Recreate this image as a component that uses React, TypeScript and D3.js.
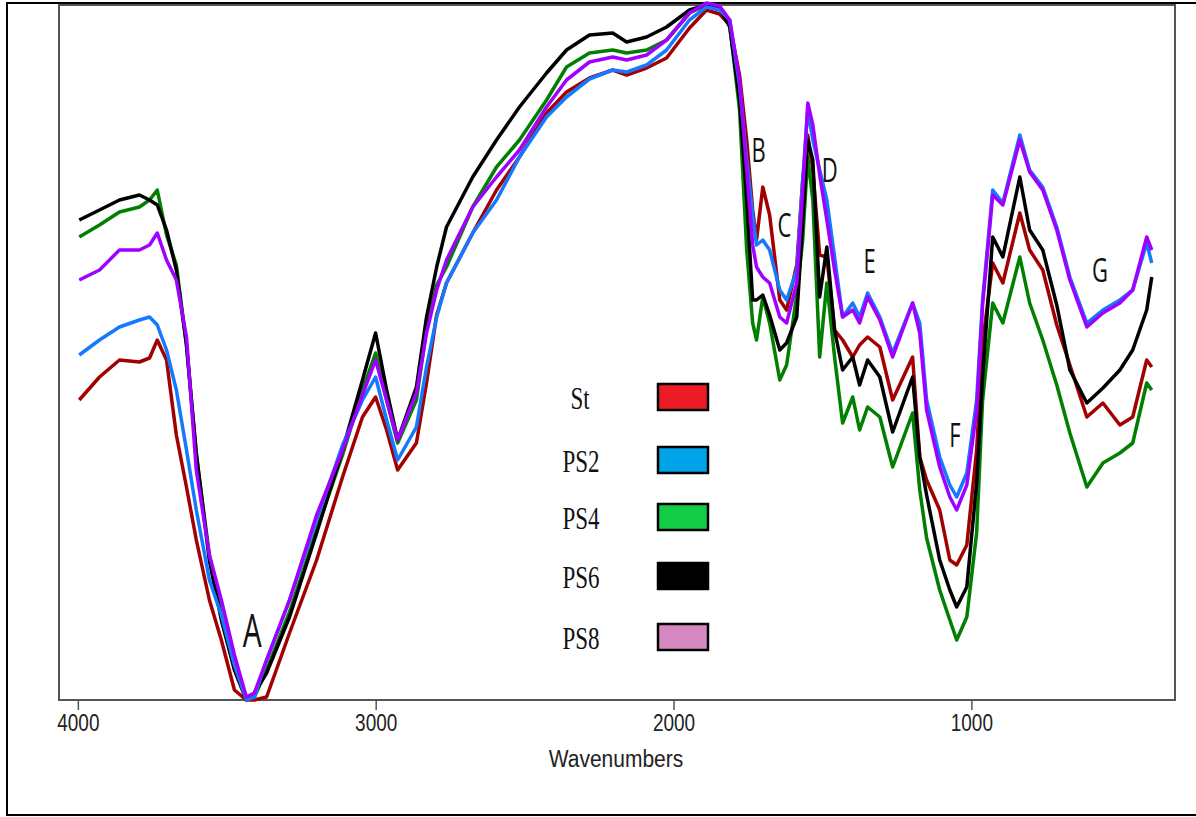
import React from "react";
import * as d3 from "d3";

// wavenumbers (cm-1) sampled along the spectra
const wavenumbers = [
  3997, 3929, 3862, 3795, 3761, 3735, 3704, 3671, 3637, 3604,
  3560, 3520, 3476, 3436, 3409, 3368, 3291, 3200, 3113, 3046,
  3002, 2965, 2928, 2865, 2831, 2797, 2764, 2676, 2596, 2519,
  2428, 2361, 2284, 2206, 2159, 2092, 2025, 1948, 1891, 1847,
  1813, 1780, 1756, 1736, 1723, 1702, 1679, 1645, 1622, 1588,
  1568, 1551, 1534, 1511, 1487, 1461, 1434, 1400, 1377, 1350,
  1309, 1266, 1199, 1175, 1152, 1108, 1074, 1051, 1017, 984,
  964, 930, 896, 839, 806, 762, 715, 671, 614, 560,
  503, 460, 413, 396,
];

// transmittance-like values (arbitrary units)
const St = [
  30.0, 32.3, 34.0, 33.8, 34.2, 36.0, 34.0, 26.5, 21.3, 16.0,
  10.0, 6.0, 1.0, 0.0, 0.0, 0.3, 6.7, 14.0, 22.3, 28.3,
  30.3, 27.0, 23.0, 25.7, 31.7, 38.5, 41.7, 46.7, 51.0, 54.3,
  58.7, 60.8, 62.2, 63.0, 62.5, 63.2, 64.2, 67.2, 69.0, 68.6,
  67.5, 62.5, 56.0, 49.0, 46.0, 51.3, 48.5, 40.0, 39.0, 43.5,
  52.0, 56.5, 53.0, 44.5, 44.3, 37.0, 36.0, 34.3, 35.5, 36.3,
  35.3, 30.0, 34.3, 24.3, 22.0, 19.0, 14.0, 13.5, 15.5, 25.0,
  35.7, 43.7, 41.7, 48.7, 45.0, 43.0, 37.5, 33.5, 28.3, 29.7,
  27.5, 28.3, 34.0, 33.3,
];
const PS2 = [
  34.5, 36.0, 37.3, 38.0, 38.3, 37.5, 35.0, 31.0, 25.0, 19.0,
  12.0, 8.5, 3.5, 0.0, 0.3, 4.0, 10.0, 18.0, 25.5, 30.0,
  32.3, 28.0, 24.0, 27.3, 33.3, 38.3, 41.7, 46.7, 50.0, 54.3,
  58.3, 60.3, 62.1, 63.0, 62.8, 63.5, 65.0, 68.0, 69.3, 69.0,
  68.0, 61.5, 54.0, 48.5, 45.5, 46.0, 45.0, 41.0, 40.0, 43.0,
  52.0, 59.0, 56.0, 53.0, 50.0, 44.3, 38.3, 39.7, 38.3, 40.7,
  38.3, 34.7, 39.7, 37.7, 30.0, 24.3, 21.5, 20.3, 22.7, 30.0,
  40.0, 51.0, 49.7, 56.5, 53.0, 51.3, 47.3, 42.3, 37.7, 39.0,
  40.0, 41.0, 45.7, 43.7,
];
const PS4 = [
  46.3, 47.5, 48.8, 49.3, 50.0, 51.0, 46.5, 43.5, 35.5, 24.5,
  14.5, 8.5, 3.5, 0.2, 0.3, 3.0, 8.8, 17.0, 24.5, 31.0,
  34.7, 30.0, 25.7, 30.0, 37.0, 41.5, 43.3, 49.3, 53.3, 56.0,
  60.0, 63.3, 64.7, 65.0, 64.7, 65.0, 66.0, 68.7, 69.5, 69.2,
  67.5, 59.0, 45.0, 37.7, 36.0, 40.3, 37.7, 32.0, 33.5, 40.5,
  46.0, 54.3, 50.0, 34.3, 41.7, 34.3, 27.7, 30.3, 27.0, 29.3,
  28.3, 23.3, 28.7, 21.0, 16.2, 11.0, 8.0, 6.0, 8.3, 16.7,
  30.0, 39.7, 37.7, 44.3, 39.7, 36.0, 31.5, 26.7, 21.3, 23.7,
  24.7, 25.7, 31.7, 31.0,
];
const PS6 = [
  48.0, 49.0, 50.0, 50.5, 50.0, 49.5, 47.0, 43.0, 35.5, 24.7,
  13.9, 8.0, 3.0, 0.0, 0.7, 2.7, 8.3, 16.7, 25.0, 32.0,
  36.7, 31.0, 26.0, 31.3, 38.3, 43.3, 47.3, 52.3, 56.0, 59.3,
  62.7, 65.0, 66.5, 66.7, 65.8, 66.3, 67.3, 69.0, 69.5, 69.2,
  67.3, 60.0, 50.0, 40.0, 40.0, 40.5, 38.5, 35.0, 35.7, 38.3,
  47.7, 56.0, 54.0, 40.3, 45.3, 37.0, 33.0, 34.3, 31.5, 34.0,
  32.3, 26.8, 32.3, 24.3, 20.5, 14.0, 11.0, 9.3, 11.3, 21.7,
  32.3, 46.3, 44.3, 52.3, 47.0, 45.0, 39.5, 33.0, 29.7, 31.2,
  33.0, 35.0, 39.0, 42.3,
];
const PS8 = [
  42.0, 43.0, 45.0, 45.0, 45.5, 46.7, 44.0, 42.0, 36.3, 23.0,
  14.5, 10.0, 4.5, 0.3, 0.7, 4.0, 10.0, 18.5, 25.0, 30.5,
  34.0, 30.0, 26.0, 30.7, 36.7, 41.0, 44.0, 49.3, 52.3, 55.0,
  59.3, 62.0, 63.8, 64.3, 64.0, 64.5, 66.0, 68.7, 69.7, 69.4,
  68.0, 62.0, 53.0, 45.5, 43.3, 42.3, 41.7, 38.3, 37.7, 41.7,
  51.0, 59.7, 57.5, 52.5, 48.0, 43.0, 38.3, 39.0, 37.7, 40.3,
  38.0, 34.3, 39.7, 36.7, 29.0, 23.3, 20.3, 19.0, 21.5, 29.0,
  39.5, 50.5, 49.5, 56.0, 52.8, 51.0, 47.0, 42.0, 37.3, 38.7,
  39.7, 41.0, 46.3, 45.0,
];

const xTicks = [4000, 3000, 2000, 1000];

// legend order (top to bottom)
const legendNames = ["St", "PS2", "PS4", "PS6", "PS8"];
const legendFills = ["#ed1c24", "#00a2e8", "#12cc45", "#000000", "#d689c0"];

// drawing order of the lines (last on top)
const drawOrder = [
  { name: "St", values: St, color: "#a30000" },
  { name: "PS4", values: PS4, color: "#007f00" },
  { name: "PS6", values: PS6, color: "#000000" },
  { name: "PS2", values: PS2, color: "#1479ff" },
  { name: "PS8", values: PS8, color: "#a000ff" },
];

// band labels placed at (wavenumber, value)
const bandLabels = ["A", "B", "C", "D", "E", "F", "G"];
const bandWn = [3416, 1716, 1629, 1477, 1343, 1057, 570];
const bandT = [5.3, 53.8, 46.3, 51.8, 42.7, 25.3, 41.8];

const W = 1196;
const H = 817;
const plot = { left: 59, right: 1175, top: 5, bottom: 700 };

export default function App() {
  const x = d3.scaleLinear().domain([4065, 318]).range([plot.left, plot.right]);
  const y = d3.scaleLinear().domain([0, 69.5]).range([plot.bottom, plot.top]);

  const line = d3
    .line<number>()
    .x((_, i) => x(wavenumbers[i]))
    .y((d) => y(d))
    .curve(d3.curveLinear);

  const legendX = 683;
  const legendRows = [397, 460, 517, 576, 637];

  return (
    <div style={{ position: "absolute", left: 0, top: 0 }}>
      <svg width={W} height={H} style={{ display: "block", background: "#fff" }}>
        {/* outer frame */}
        <rect x={7} y={3} width={1192} height={812} fill="none" stroke="#000" strokeWidth={2} />

        {/* plot frame */}
        <rect
          x={plot.left}
          y={plot.top}
          width={plot.right - plot.left}
          height={plot.bottom - plot.top}
          fill="#fff"
          stroke="#555"
          strokeWidth={2}
        />

        {/* spectra */}
        <g fill="none" strokeWidth={3.5} strokeLinejoin="round">
          {drawOrder.map((s) => (
            <path key={s.name} d={line(s.values) || ""} stroke={s.color} />
          ))}
        </g>

        {/* x axis */}
        <g>
          {xTicks.map((t) => (
            <g key={t} transform={`translate(${x(t)},${plot.bottom})`}>
              <line y1={0} y2={10} stroke="#555" strokeWidth={1.5} />
              <text
                transform="translate(0,31) scale(1,1.25)"
                textAnchor="middle"
                fontFamily="'Liberation Sans', Arial, sans-serif"
                fontSize={19}
                fill="#222"
              >
                {t}
              </text>
            </g>
          ))}
          <text
            transform={`translate(${(546 + 686) / 2},767) scale(1,1.15)`}
            textAnchor="middle"
            fontFamily="'Liberation Sans', Arial, sans-serif"
            fontSize={21}
            fill="#222"
          >
            Wavenumbers
          </text>
        </g>

        {/* band labels */}
        {bandLabels.map((l, i) => (
          <text
            key={l}
            transform={`translate(${x(bandWn[i])},${y(bandT[i])}) scale(1,1.5)`}
            textAnchor="middle"
            fontFamily="'Open Sans', 'Noto Sans', sans-serif"
            fontSize={l === "A" ? 30 : 22}
            fill="#111"
          >
            {l}
          </text>
        ))}

        {/* legend */}
        {legendNames.map((n, i) => (
          <g key={n}>
            <text
              transform={`translate(${n === "St" ? 580 : 581},${legendRows[i] + 12}) scale(1,1.35)`}
              textAnchor="middle"
              fontFamily="'Liberation Serif', 'Times New Roman', serif"
              fontSize={23}
              fill="#111"
            >
              {n}
            </text>
            <rect
              x={legendX - 25}
              y={legendRows[i] - 13}
              width={50}
              height={26}
              fill={legendFills[i]}
              stroke="#000"
              strokeWidth={2.5}
            />
          </g>
        ))}
      </svg>
    </div>
  );
}
